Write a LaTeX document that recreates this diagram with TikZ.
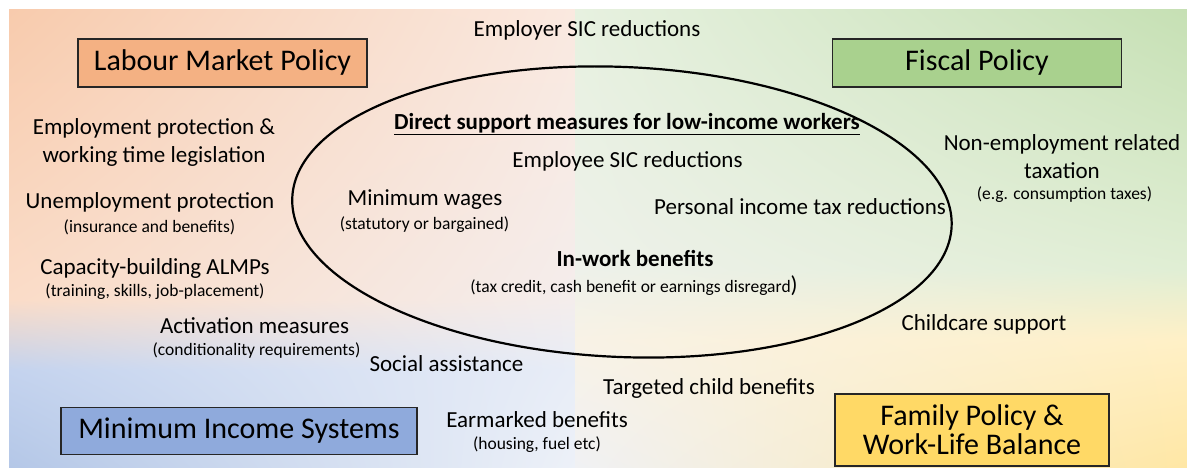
\documentclass[tikz,border=0pt]{standalone}
\usepackage{fontspec}
\setmainfont{Carlito}
\usepackage{xcolor}
\usepackage{tikz}
\usetikzlibrary{shadings}

\definecolor{lmpfill}{HTML}{F4B183}
\definecolor{fpfill}{HTML}{A9D18E}
\definecolor{misfill}{HTML}{8FAADC}
\definecolor{famfill}{HTML}{FFD966}
% background tints
\definecolor{peachA}{HTML}{F8CBAD}
\definecolor{peachB}{HTML}{FAE9E0}
\definecolor{peachC}{HTML}{FADCC8}
\definecolor{peachD}{HTML}{F4EDEC}
\definecolor{blueA}{HTML}{C4D3EE}
\definecolor{blueB}{HTML}{E8EDF7}
\definecolor{blueC}{HTML}{B4C7E7}
\definecolor{blueD}{HTML}{EDF1F8}
\definecolor{greenA}{HTML}{E7F1E0}
\definecolor{greenB}{HTML}{C6E0B4}
\definecolor{greenC}{HTML}{EEF1EA}
\definecolor{greenD}{HTML}{E0EED4}
\definecolor{yellA}{HTML}{F8F2E6}
\definecolor{yellB}{HTML}{FFF0C6}
\definecolor{yellC}{HTML}{F0F1F4}
\definecolor{yellD}{HTML}{FFE7A4}

\begin{document}
\begin{tikzpicture}[x=1pt, y=-1pt,
    txt/.style={font=\fontsize{23}{28}\selectfont, align=center, inner sep=0pt},
    sub/.style={font=\fontsize{17.5}{20}\selectfont, inner sep=0pt},
    policy/.style={draw=black!85, line width=1.2pt, align=center,
      font=\fontsize{30}{29}\selectfont, inner sep=0pt}]
      \useasboundingbox (0,0) rectangle (1187,468);
      % background
      \shade[upper left=peachA, upper right=peachB, lower left=peachC, lower right=peachD] (9,10) rectangle (575,300);
      \shade[upper left=peachC, upper right=peachD, lower left=blueA, lower right=blueB] (9,300) rectangle (575,370);
      \shade[upper left=blueA, upper right=blueB, lower left=blueC, lower right=blueD] (9,370) rectangle (575,468);
      \shade[upper left=greenA, upper right=greenB, lower left=greenC, lower right=greenD] (575,10) rectangle (1187,270);
      \shade[upper left=greenC, upper right=greenD, lower left=yellA, lower right=yellB] (575,270) rectangle (1187,340);
      \shade[upper left=yellA, upper right=yellB, lower left=yellC, lower right=yellD] (575,340) rectangle (1187,468);
      % direct support ellipse
      \coordinate (core) at (622,212);
      \draw[line width=2.2pt, rotate around={-2.5:(core)}] (core) ellipse [x radius=330, y radius=145];
      % policy boxes
      \node[policy, fill=lmpfill, minimum width=289pt, minimum height=48pt] (lmp) at (222.5,63) {Labour Market Policy};
      \node[policy, fill=fpfill, minimum width=289pt, minimum height=48pt] (fp) at (977,63) {Fiscal Policy};
      \node[policy, fill=misfill, minimum width=356pt, minimum height=47pt] (mis) at (239,431) {Minimum Income Systems};
      \node[policy, fill=famfill, minimum width=274pt, minimum height=72pt] (fam) at (972,430) {Family Policy \&\\Work-Life Balance};
      % measures
      \node[txt] (emplr) at (587,30) {Employer SIC reductions};
      \node[txt, font=\fontsize{23}{27}\bfseries] (head) at (627,124) {\underline{Direct support measures for low-income workers}};
      \node[txt] (emple) at (627.5,161) {Employee SIC reductions};
      \node[txt] (minw) at (425,200) {Minimum wages};
      \node[sub] (minwx) at (424.5,225) {(statutory or bargained)};
      \node[txt] (pit) at (800,207) {Personal income tax reductions};
      \node[txt, font=\fontsize{23}{27}\bfseries] (iwb) at (635,258) {In-work benefits};
      \node[sub] (iwbx) at (634,286) {(tax credit, cash benefit or earnings disregard{\fontsize{23}{28}\selectfont)}};
      \node[txt] (epl) at (154,142) {Employment protection \&\\working time legislation};
      \node[txt] (unemp) at (150,202) {Unemployment protection};
      \node[sub] (unempx) at (149.5,227) {(insurance and benefits)};
      \node[txt] (almp) at (155,268) {Capacity-building ALMPs};
      \node[sub] (almpx) at (155,292) {(training, skills, job-placement)};
      \node[txt] (act) at (254.5,326) {Activation measures};
      \node[sub] (actx) at (256.5,351) {(conditionality requirements)};
      \node[txt] (sa) at (446.5,364) {Social assistance};
      \node[txt] (tax) at (1062,157) {Non-employment related\\taxation};
      \node[sub] (taxx) at (1064.5,195) {(e.g. consumption taxes)};
      \node[txt] (cc) at (984,324) {Childcare support};
      \node[txt] (tcb) at (709,388) {Targeted child benefits};
      \node[txt] (earm) at (537,420) {Earmarked benefits};
      \node[sub] (earmx) at (537,445) {(housing, fuel etc)};
\end{tikzpicture}
\end{document}
